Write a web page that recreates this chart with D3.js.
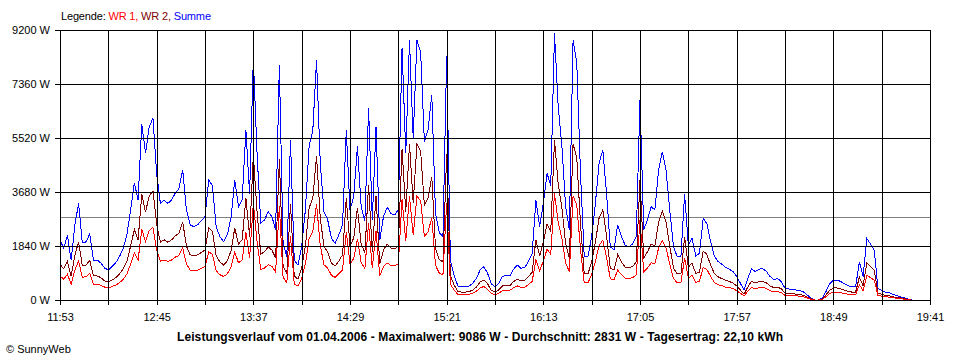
<!DOCTYPE html>
<html><head><meta charset="utf-8">
<script src="https://cdn.jsdelivr.net/npm/d3@7"></script>
<style>
html,body{margin:0;padding:0;background:#fff;}
svg{display:block;font-family:"Liberation Sans",Arial,sans-serif;}
</style></head><body>
<svg id="chart" width="960" height="360"></svg>
<script>
// ---- data ----
const timeLabels = ["11:53","12:45","13:37","14:29","15:21","16:13","17:05","17:57","18:49","19:41"];
const yTickValues = [0, 1840, 3680, 5520, 7360, 9200];
const stepMinutes = 2;          // sample spacing, starting at 11:53
const totalMinutes = 468;       // 11:53 .. 19:41
const gridMinutes = 26;
const average = 2831;
const legendItems = [
  {text: "Legende: ", color: "#000000"},
  {text: "WR 1, ", color: "#ff0000"},
  {text: "WR 2, ", color: "#800000"},
  {text: "Summe", color: "#0000ff"}
];
const titleText = "Leistungsverlauf vom 01.04.2006 - Maximalwert: 9086 W - Durchschnitt: 2831 W - Tagesertrag: 22,10 kWh";
const footerText = "\u00A9 SunnyWeb";

const summe = [
2040,1770,2200,1350,2550,3300,1950,1980,2250,1360,1360,1260,1090,
1020,1140,1270,1480,1760,2220,3070,4000,3400,6000,5000,5900,6200,
4300,3290,3410,3290,3410,3640,3800,4430,3070,2560,2500,2560,2700,
2840,4090,3900,2500,2160,1990,2220,2800,4090,3180,3410,5790,3600,
8230,5000,2610,2730,3010,2840,2390,8000,1940,1480,5450,1360,1190,
1820,3070,5230,5790,8180,4660,3010,2730,2100,1930,2220,2560,5790,
3070,3520,5230,3180,2700,6530,2730,5900,2040,2840,3160,2950,2900,
3070,8600,5000,8850,5500,8850,8450,5400,5800,7000,2950,2300,2160,
8300,1360,850,480,450,450,470,570,740,1020,1140,910,550,
450,570,800,850,820,1050,1190,1080,1110,1310,1590,3410,2500,
3290,4320,3900,9086,6590,5230,3180,2390,8860,8070,4320,1480,1480,
2160,3290,4660,5110,3640,1820,1700,2560,2160,1870,1820,1900,2160,
6820,2390,2730,3180,3070,4430,5050,4430,3070,1820,1480,1480,3600,
1870,2100,1500,1590,2780,2590,1990,1500,1310,1220,1110,1050,970,
800,570,340,740,1060,970,1050,1070,970,800,700,730,630,
400,380,350,340,320,270,170,60,0,0,60,280,550,
680,680,630,550,490,450,450,1300,800,2100,1910,1700,400,
320,270,250,190,150,110,80,30,0];

const wr1 = [
820,710,880,540,1020,1320,780,790,900,540,540,500,440,
410,460,510,590,700,890,1230,1600,1360,2400,2000,2360,2480,
1720,1320,1360,1320,1360,1460,1520,1770,1230,1020,1000,1020,1080,
1140,1640,1560,1000,860,800,890,1120,1640,1270,1360,2320,1440,
3290,2000,1040,1090,1200,1140,960,3200,780,590,2180,540,480,
730,1230,2090,2320,3270,1860,1200,1090,840,770,890,1020,2320,
1230,1410,2090,1270,1080,2610,1090,2360,820,1140,1260,1180,1160,
1230,3440,2000,3540,2200,3540,3380,2160,2320,2800,1180,920,860,
3320,540,340,190,180,180,190,230,300,410,460,360,220,
180,230,320,340,330,420,480,430,440,520,640,1360,1000,
1320,1730,1560,3630,2640,2090,1270,960,3540,3230,1730,590,590,
860,1320,1860,2040,1460,730,680,1020,860,750,730,760,860,
2730,960,1090,1270,1230,1770,2020,1770,1230,730,590,590,1440,
750,840,600,640,1110,1040,800,600,520,490,440,420,390,
320,230,140,300,420,390,420,430,390,320,280,290,250,
160,150,140,140,130,110,70,20,0,0,20,110,220,
270,270,250,220,200,180,180,520,320,840,760,680,160,
130,110,100,80,60,40,30,10,0];

const wr2 = [
1220,1060,1320,810,1530,1980,1170,1190,1350,820,820,760,650,
610,680,760,890,1060,1330,1840,2400,2040,3600,3000,3540,3720,
2580,1970,2050,1970,2050,2180,2280,2660,1840,1540,1500,1540,1620,
1700,2450,2340,1500,1300,1190,1330,1680,2450,1910,2050,3470,2160,
4940,3000,1570,1640,1810,1700,1430,4800,1160,890,3270,820,710,
1090,1840,3140,3470,4910,2800,1810,1640,1260,1160,1330,1540,3470,
1840,2110,3140,1910,1620,3920,1640,3540,1220,1700,1900,1770,1740,
1840,5160,3000,5310,3300,5310,5070,3240,3480,4200,1770,1380,1300,
4980,820,510,290,270,270,280,340,440,610,680,550,330,
270,340,480,510,490,630,710,650,670,790,950,2050,1500,
1970,2590,2340,5456,3950,3140,1910,1430,5320,4840,2590,890,890,
1300,1970,2800,3070,2180,1090,1020,1540,1300,1120,1090,1140,1300,
4090,1430,1640,1910,1840,2660,3030,2660,1840,1090,890,890,2160,
1120,1260,900,950,1670,1550,1190,900,790,730,670,630,580,
480,340,200,440,640,580,630,640,580,480,420,440,380,
240,230,210,200,190,160,100,40,0,0,40,170,330,
410,410,380,330,290,270,270,780,480,1260,1150,1020,240,
190,160,150,110,90,70,50,20,0];

// ---- drawing ----
const svg = d3.select("#chart");
const x = d3.scaleLinear().domain([0, totalMinutes]).range([60, 930]);
const y = d3.scaleLinear().domain([0, 9200]).range([300, 30]);
const gridVals = d3.range(0, totalMinutes + 1, gridMinutes);
const FONT = '"Liberation Sans", Arial, sans-serif';

// average line (under data)
svg.append("line")
  .attr("x1", x(0)).attr("x2", x(totalMinutes))
  .attr("y1", Math.round(y(average)) + 0.5).attr("y2", Math.round(y(average)) + 0.5)
  .attr("stroke", "#808080").attr("stroke-width", 1)
  .attr("shape-rendering", "crispEdges");

// data lines
const series = [
  {values: summe, color: "#0000ff"},
  {values: wr2, color: "#800000"},
  {values: wr1, color: "#ff0000"}
];
const line = d3.line()
  .x((d, i) => x(i * stepMinutes))
  .y(d => y(d));
series.forEach(s => {
  svg.append("path")
    .datum(s.values)
    .attr("d", line)
    .attr("fill", "none")
    .attr("stroke", s.color)
    .attr("stroke-width", 1)
    .attr("shape-rendering", "crispEdges");
});

// grid
const gy = svg.append("g").attr("transform", "translate(60,0)")
  .call(d3.axisLeft(y).tickValues(yTickValues).tickSize(-870).tickFormat(""));
gy.select(".domain").remove();
const gx = svg.append("g").attr("transform", "translate(0,300)")
  .call(d3.axisBottom(x).tickValues(gridVals).tickSize(-270).tickFormat(""));
gx.select(".domain").remove();
svg.selectAll("g line").attr("stroke", "#000").attr("shape-rendering", "crispEdges");

// axes with labels
const ay = svg.append("g").attr("transform", "translate(60,0)")
  .call(d3.axisLeft(y).tickValues(yTickValues).tickSize(5).tickPadding(5).tickFormat(d => d + " W"));
ay.select(".domain").remove();
const ax = svg.append("g").attr("transform", "translate(0,300)")
  .call(d3.axisBottom(x).tickValues(gridVals).tickSize(5).tickPadding(8)
    .tickFormat((d, i) => i % 2 === 0 ? timeLabels[i / 2] : ""));
ax.select(".domain").remove();
[ax, ay].forEach(g => {
  g.attr("font-family", FONT).attr("font-size", 11);
  g.selectAll("text").attr("fill", "#000");
  g.selectAll("line").attr("stroke", "#000").attr("shape-rendering", "crispEdges");
});

// legend
const leg = svg.append("text").attr("x", 61).attr("y", 20)
  .attr("font-family", FONT).attr("font-size", 11)
  .attr("textLength", 150).attr("lengthAdjust", "spacing");
legendItems.forEach(it => {
  leg.append("tspan").attr("fill", it.color).text(it.text);
});
leg.style("white-space", "pre");

// title
svg.append("text").attr("x", 480).attr("y", 341)
  .attr("text-anchor", "middle").attr("font-family", FONT)
  .attr("font-size", 12).attr("font-weight", "bold").attr("fill", "#000")
  .attr("textLength", 606).attr("lengthAdjust", "spacing")
  .text(titleText);

// footer
svg.append("text").attr("x", 6).attr("y", 353)
  .attr("font-family", FONT).attr("font-size", 11).attr("fill", "#000")
  .text(footerText);
</script>
</body></html>
